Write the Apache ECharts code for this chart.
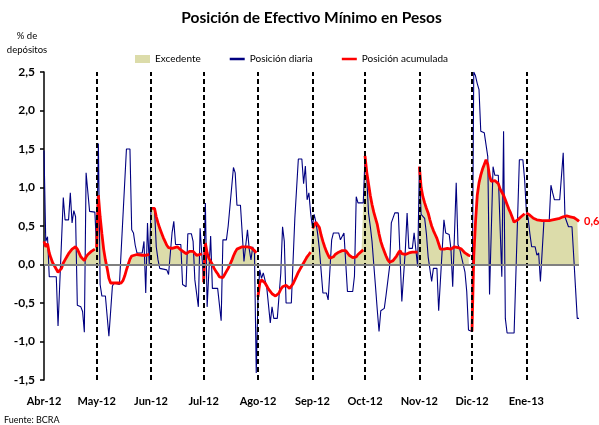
<!DOCTYPE html>
<html><head><meta charset="utf-8">
<script src="https://cdn.jsdelivr.net/npm/echarts@6/dist/echarts.min.js"></script>
<style>html,body{margin:0;padding:0;background:#fff}#c{width:599px;height:425px}</style>
</head><body><div id="c"></div>
<script>
// ---- Etiquetas ----
const monthLabels = ['Abr-12','May-12','Jun-12','Jul-12','Ago-12','Sep-12','Oct-12','Nov-12','Dic-12','Ene-13'];
const legendNames = ['Excedente','Posición diaria','Posición acumulada'];
// ---- Datos: [día desde 1-abr-2012, % de depósitos] ----
const diariaAbr = [[0,1.48],[1,0.3],[2,0.36],[3,-0.16],[7,-0.16],[8,-0.8],[11,0.87],[12,0.58],[14,0.58],[15,0.93],[16,0.54],[17,0.7],[18,0.62],[19,-0.53],[21,-0.55],[22,-0.61],[23,-0.88],[24,1.19],[26,0.69],[29,0.68]];
const diariaMay = [[30,0.2],[31,1.57],[32,-0.26],[33,-0.41],[35,-0.41],[37,-0.93],[39,-0.28],[40,-0.24],[43,-0.26],[47,1.5],[49,1.5],[50,0.45],[51,0.41],[52,0.25],[53,0.15],[56,0.15],[57,0.3],[58,-0.37],[59,0.54],[60,0.0]];
const diariaJun = [[61,0.73],[63,0.73],[64,0.23],[65,0.06],[66,-0.05],[70,-0.07],[71,-0.13],[73,0.41],[74,0.56],[75,0.26],[78,0.26],[79,-0.26],[81,-0.29],[82,0.4],[84,0.4],[85,0.3],[86,-0.2],[88,-0.55],[89,0.47],[90,0.47]];
const diariaJul = [[91,-0.23],[92,0.8],[93,-0.55],[95,0.37],[96,-0.31],[99,-0.31],[101,-0.73],[102,0.32],[104,0.32],[105,0.5],[108,1.26],[109,1.19],[110,0.77],[112,0.77],[114,0.04],[116,0.45],[117,0.2],[118,0.06],[119,0.23],[120,0.15],[121,-1.41]];
const diariaAgo = [[122,-0.42],[123,-0.07],[124,-0.18],[125,-0.11],[126,-0.09],[127,-0.3],[129,-0.76],[130,-0.55],[131,-0.7],[133,-0.7],[135,-0.11],[136,0.49],[137,0.3],[138,-0.5],[141,-0.5],[143,0.6],[145,1.37],[147,1.37],[148,1.05],[149,1.28],[150,0.84],[151,0.93],[152,0.67]];
const diariaSep = [[153,0.49],[154,0.65],[155,0.55],[156,0.4],[157,0.2],[159,-0.37],[161,-0.37],[162,-0.46],[164,0.32],[165,0.41],[168,0.41],[169,0.32],[171,0.41],[172,0.41],[173,-0.35],[176,-0.35],[177,-0.15],[178,0.88],[179,0.8],[182,0.8]];
const diariaOct = [[183,1.38],[184,1.14],[185,0.67],[186,0.5],[187,0.3],[188,0.0],[189,-0.29],[190,-0.59],[191,-0.87],[192,-0.6],[194,-0.57],[195,-0.4],[197,-0.03],[198,0.54],[200,0.67],[202,0.67],[204,-0.48],[206,0.19],[207,0.67],[208,0.21],[210,0.21],[211,0.41],[213,-0.03]];
const diariaNov = [[214,1.27],[215,0.65],[217,0.6],[218,0.4],[219,0.1],[221,-0.22],[222,-0.05],[224,-0.05],[225,-0.6],[226,-0.62],[228,0.58],[229,0.41],[231,0.39],[232,0.2],[233,-0.29],[235,1.06],[236,0.26],[237,0.2],[238,0.1],[239,0.0],[240,-0.1],[241,-0.35],[242,-0.85],[243,-0.85]];
const diariaDic = [[244,-0.87],[245,2.5],[246,2.45],[247,2.35],[248,2.27],[249,1.73],[251,1.71],[252,1.71],[253,1.4],[254,-0.39],[256,1.27],[257,1.16],[259,1.16],[261,-0.16],[262,1.73],[263,-0.7],[264,-0.89],[268,-0.89],[271,1.36],[273,1.36],[274,1.1]];
const diariaEne = [[275,0.69],[276,0.6],[277,0.4],[278,0.23],[280,0.23],[281,0.12],[282,0.15],[283,-0.22],[285,0.56],[288,0.56],[289,1.03],[290,0.93],[291,0.84],[294,0.84],[296,1.45],[297,0.62],[299,0.49],[301,0.49],[302,0.1],[303,-0.3],[304,-0.7],[305,-0.7]];

const acumAbr = [[0,0.3],[1,0.23],[2,0.27],[3,0.15],[4,0.08],[5,0.02],[6,-0.02],[8,-0.1],[9,-0.12],[10,-0.05],[11,0.02],[12,0.06],[13,0.1],[14,0.14],[16,0.2],[18,0.23],[19,0.2],[20,0.15],[21,0.1],[23,0.05],[24,0.1],[25,0.13],[27,0.17],[29,0.2]];
const acumMay = [[30,0.22],[31,0.9],[32,0.62],[33,0.4],[34,0.2],[35,0.06],[36,-0.05],[37,-0.18],[38,-0.24],[44,-0.24],[45,-0.21],[46,-0.15],[47,-0.07],[48,0.0],[49,0.07],[50,0.11],[51,0.125],[53,0.13],[56,0.12],[58,0.12],[60,0.13]];
const acumJun = [[61,0.73],[63,0.73],[64,0.62],[65,0.54],[66,0.47],[67,0.41],[68,0.35],[69,0.3],[70,0.25],[71,0.22],[72,0.2],[73,0.21],[74,0.23],[76,0.23],[77,0.21],[78,0.19],[79,0.17],[81,0.14],[82,0.15],[83,0.17],[84,0.18],[85,0.17],[86,0.15],[87,0.12],[88,0.11],[89,0.13],[90,0.14]];
const acumJul = [[91,-0.23],[92,0.28],[93,0.15],[94,0.08],[95,0.04],[96,0.0],[97,-0.05],[98,-0.09],[99,-0.12],[100,-0.16],[101,-0.18],[102,-0.17],[103,-0.13],[104,-0.09],[105,-0.05],[106,0.0],[107,0.05],[108,0.11],[109,0.16],[110,0.2],[111,0.22],[113,0.23],[116,0.23],[118,0.22],[119,0.21],[120,0.18],[121,0.15]];
const acumAgo = [[122,-0.42],[123,-0.24],[124,-0.2],[125,-0.2],[126,-0.24],[127,-0.28],[128,-0.32],[129,-0.35],[130,-0.38],[131,-0.4],[132,-0.41],[133,-0.41],[134,-0.37],[135,-0.32],[136,-0.29],[137,-0.27],[138,-0.27],[139,-0.29],[140,-0.31],[141,-0.3],[142,-0.25],[143,-0.2],[144,-0.15],[145,-0.1],[146,-0.06],[147,-0.02],[148,0.02],[149,0.06],[150,0.1],[151,0.13],[152,0.16]];
const acumSep = [[153,0.47],[154,0.5],[155,0.55],[156,0.53],[157,0.48],[158,0.38],[159,0.3],[160,0.23],[161,0.17],[162,0.12],[163,0.08],[164,0.07],[165,0.1],[166,0.13],[167,0.15],[168,0.16],[169,0.17],[170,0.18],[171,0.19],[172,0.18],[173,0.15],[174,0.12],[175,0.1],[176,0.09],[177,0.08],[178,0.1],[179,0.13],[180,0.15],[181,0.17],[182,0.19]];
const acumOct = [[183,1.41],[184,1.2],[185,1.05],[186,0.9],[187,0.78],[188,0.68],[189,0.6],[190,0.52],[191,0.4],[192,0.3],[193,0.23],[194,0.17],[195,0.11],[196,0.06],[197,0.03],[198,0.03],[199,0.05],[200,0.08],[201,0.11],[202,0.15],[203,0.18],[204,0.14],[205,0.13],[206,0.13],[207,0.15],[208,0.15],[210,0.16],[213,0.16]];
const acumNov = [[214,1.27],[215,1.0],[216,0.88],[217,0.8],[218,0.73],[219,0.67],[220,0.58],[221,0.5],[222,0.44],[223,0.39],[224,0.34],[225,0.27],[226,0.2],[227,0.18],[228,0.2],[229,0.2],[230,0.21],[231,0.2],[232,0.2],[233,0.22],[234,0.23],[235,0.23],[236,0.22],[237,0.22],[238,0.2],[239,0.18],[240,0.15],[241,0.13],[242,0.12],[243,0.11]];
const acumDic = [[244,-0.87],[245,0.1],[246,0.55],[247,0.9],[248,1.06],[249,1.16],[250,1.24],[251,1.3],[252,1.36],[253,1.3],[254,1.15],[255,1.08],[256,1.08],[257,1.09],[258,1.08],[259,1.05],[260,0.98],[261,0.99],[262,0.9],[263,0.84],[264,0.78],[265,0.72],[266,0.67],[267,0.61],[268,0.55],[269,0.55],[270,0.58],[271,0.6],[272,0.62],[273,0.64],[274,0.66]];
const acumEne = [[275,0.67],[276,0.66],[277,0.64],[278,0.62],[279,0.6],[280,0.59],[281,0.58],[282,0.57],[284,0.57],[286,0.57],[288,0.57],[290,0.58],[292,0.59],[294,0.6],[296,0.62],[298,0.63],[300,0.62],[302,0.61],[303,0.6],[304,0.58],[305,0.56]];

// ---- Construcción ----
const DAY0 = Date.UTC(2012, 3, 1);
const monthStarts = monthLabels.map((_, i) => Math.round((Date.UTC(2012, 3 + i, 1) - DAY0) / 86400000));
const lastDay = Math.round((Date.UTC(2013, 0, 31) - DAY0) / 86400000);

const diariaMeses = [diariaAbr, diariaMay, diariaJun, diariaJul, diariaAgo, diariaSep, diariaOct, diariaNov, diariaDic, diariaEne];
const acumMeses = [acumAbr, acumMay, acumJun, acumJul, acumAgo, acumSep, acumOct, acumNov, acumDic, acumEne];
const diaria = [].concat(...diariaMeses);
const excedente = [].concat(...acumMeses);
const acum = [];
acumMeses.forEach((m, i) => { if (i > 0) acum.push([m[0][0] - 0.5, null]); m.forEach(p => acum.push(p)); });

const FONT = 'Lato';
const fmt = v => v.toFixed(1).replace('.', ',');
const LINE_ICON = 'path://M0,0L0,0.01M0,2.7H15V5.3H0ZM0,8L0,8.01';

const chart = echarts.init(document.getElementById('c'));
chart.setOption({
  animation: false,
  backgroundColor: '#fff',
  textStyle: { fontFamily: FONT },
  graphic: [
    { type: 'text', x: 311.5, y: 18, style: { text: 'Posición de Efectivo Mínimo en Pesos', fill: '#000', font: 'bold 15.5px ' + FONT, textAlign: 'center', textVerticalAlign: 'middle', align: 'center', verticalAlign: 'middle' } },
    { type: 'text', x: 27, y: 36, style: { text: '% de', fill: '#000', font: '9.5px ' + FONT, textAlign: 'center', textVerticalAlign: 'middle', align: 'center', verticalAlign: 'middle' } },
    { type: 'text', x: 27, y: 50, style: { text: 'depósitos', fill: '#000', font: '9.5px ' + FONT, textAlign: 'center', textVerticalAlign: 'middle', align: 'center', verticalAlign: 'middle' } },
    { type: 'text', x: 4, y: 420, style: { text: 'Fuente: BCRA', fill: '#000', font: '9px ' + FONT, textAlign: 'left', textVerticalAlign: 'middle', align: 'left', verticalAlign: 'middle' } }
  ],
  legend: {
    left: 130, top: 49, itemWidth: 15, itemHeight: 8, itemGap: 29,
    textStyle: { fontSize: 10, color: '#000', fontFamily: FONT },
    data: [
      { name: legendNames[0], icon: 'rect', itemStyle: { color: '#dcdcaa', borderWidth: 0 } },
      { name: legendNames[1], icon: LINE_ICON, itemStyle: { color: '#000080', borderWidth: 0 } },
      { name: legendNames[2], icon: LINE_ICON, itemStyle: { color: '#ff0000', borderWidth: 0 } }
    ]
  },
  grid: { left: 44, right: 20, top: 72, bottom: 45, containLabel: false },
  xAxis: {
    type: 'value', min: 0, max: lastDay,
    axisLine: { show: false }, axisTick: { show: false }, splitLine: { show: false },
    axisLabel: {
      customValues: monthStarts,
      formatter: v => { const i = monthStarts.indexOf(v); return i >= 0 ? monthLabels[i] : ''; },
      fontWeight: 'bold', fontSize: 11, color: '#000', margin: 16, fontFamily: FONT
    }
  },
  yAxis: {
    type: 'value', min: -1.5, max: 2.5, interval: 0.5,
    axisLine: { show: true, onZero: false, lineStyle: { color: '#000', width: 1.5 } },
    axisTick: { show: true, length: 4, lineStyle: { color: '#000', width: 1.5 } },
    splitLine: { show: false },
    axisLabel: { formatter: fmt, fontWeight: 'bold', fontSize: 12, color: '#000', margin: 9, fontFamily: FONT }
  },
  visualMap: [{
    type: 'piecewise', show: false, seriesIndex: 0, dimension: 1,
    pieces: [{ gt: 0, lte: 5, color: '#dcdcaa' }, { gt: -5, lte: 0, color: 'rgba(220,220,170,0)' }]
  }],
  series: [
    {
      name: legendNames[0], type: 'line', data: excedente, symbol: 'none', silent: true, z: 1,
      itemStyle: { color: '#dcdcaa' },
      lineStyle: { width: 0, opacity: 0 },
      areaStyle: { opacity: 1 },
      markLine: {
        silent: true, symbol: ['none', 'none'], label: { show: false }, animation: false,
        data: monthStarts.slice(1).map(d => ({ xAxis: d, lineStyle: { type: [5, 3], color: '#000', width: 2 } }))
          .concat([{ yAxis: 0, lineStyle: { type: 'solid', color: '#808080', width: 2 } }])
      }
    },
    {
      name: legendNames[1], type: 'line', data: diaria, symbol: 'none', z: 2,
      itemStyle: { color: '#000080' },
      lineStyle: { color: '#000080', width: 1.1 }
    },
    {
      name: legendNames[2], type: 'line', data: acum, symbol: 'none', z: 3, connectNulls: false,
      itemStyle: { color: '#ff0000' },
      lineStyle: { color: '#ff0000', width: 2.8 },
      endLabel: { show: true, formatter: p => fmt(p.value[1]), color: '#ff0000', fontWeight: 'bold', fontSize: 11, distance: 5, fontFamily: FONT }
    }
  ]
});
</script></body></html>
